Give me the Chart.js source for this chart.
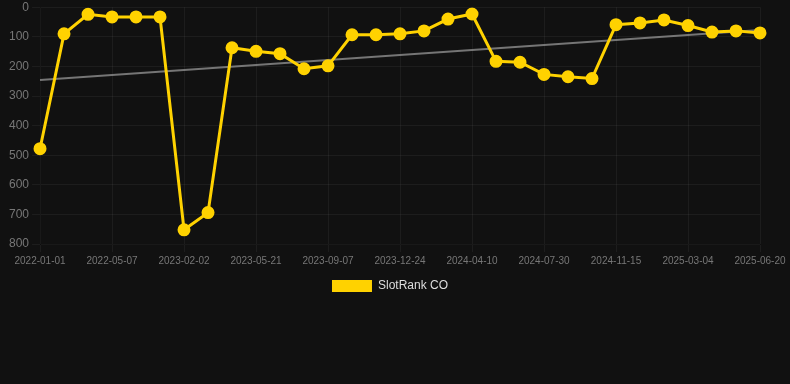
<!DOCTYPE html>
<html lang="en">
<head>
    <meta charset="UTF-8">
    <title>SlotRank CO</title>
    <script src="https://cdn.jsdelivr.net/npm/chart.js"></script>
    <style>
        html, body { margin: 0; padding: 0; background: #111111; overflow: hidden; }
        .chart-box { width: 790px; height: 305px; margin-top: -3px; }
    </style>
</head>
<body>
<div class="chart-box">
    <canvas id="rankChart"></canvas>
</div>
<script>
    // dates along the x axis (every third one is printed)
    const dates = [
        '2022-01-01', '2022-02-12', '2022-03-26', '2022-05-07', '2022-08-30', '2022-11-15',
        '2023-02-02', '2023-03-10', '2023-04-15', '2023-05-21', '2023-06-27', '2023-08-02',
        '2023-09-07', '2023-10-13', '2023-11-18', '2023-12-24', '2024-01-29', '2024-03-05',
        '2024-04-10', '2024-05-17', '2024-06-23', '2024-07-30', '2024-09-05', '2024-10-10',
        '2024-11-15', '2024-12-21', '2025-01-27', '2025-03-04', '2025-04-09', '2025-05-15',
        '2025-06-20'
    ];

    // rank values
    const rank = [
        478, 90, 24, 33, 33, 33,
        752, 694, 137, 149, 157, 208,
        198, 93, 93, 90, 80, 40,
        23, 183, 186, 227, 235, 241,
        59, 53, 43, 62, 84, 80,
        87
    ];

    // grey trend line: only the two ends are known
    const trendStart = 246;
    const trendEnd = 77;
    const trend = dates.map((d, i) => i === 0 ? trendStart : (i === dates.length - 1 ? trendEnd : null));

    const yTicks = { min: 0, max: 800, step: 100 };

    const font = 'Arial, "Liberation Sans", sans-serif';

    // nudge the legend a little to the right, like the original
    const shiftLegend = {
        id: 'shiftLegend',
        afterUpdate(chart) {
            chart.legend.left += 7;
            chart.legend.right += 7;
        }
    };

    const ctx = document.getElementById('rankChart').getContext('2d');
    new Chart(ctx, {
        type: 'line',
        data: {
            labels: dates,
            datasets: [
                {
                    label: 'SlotRank CO',
                    data: rank,
                    borderColor: '#FFD200',
                    backgroundColor: '#FFD200',
                    borderWidth: 3,
                    pointRadius: 5,
                    pointHoverRadius: 6,
                    tension: 0
                },
                {
                    label: 'trend',
                    data: trend,
                    borderColor: 'rgba(160, 160, 160, 0.7)',
                    borderWidth: 2,
                    pointRadius: 0,
                    spanGaps: true
                }
            ]
        },
        options: {
            responsive: true,
            maintainAspectRatio: false,
            animation: false,
            layout: { padding: { left: 6, right: 30 } },
            plugins: {
                legend: {
                    position: 'bottom',
                    labels: {
                        color: '#dddddd',
                        font: { family: font, size: 12 },
                        boxWidth: 40,
                        boxHeight: 12,
                        filter: item => item.text !== 'trend',
                        generateLabels: chart => {
                            const items = Chart.defaults.plugins.legend.labels.generateLabels(chart);
                            items.forEach(it => { it.lineWidth = 0; });
                            return items;
                        }
                    }
                },
                tooltip: { enabled: false }
            },
            scales: {
                x: {
                    grid: { color: 'rgba(255, 255, 255, 0.05)' },
                    ticks: {
                        color: '#777777',
                        font: { family: font, size: 10 },
                        maxRotation: 0,
                        autoSkip: true,
                        maxTicksLimit: 11
                    }
                },
                y: {
                    reverse: true,
                    min: yTicks.min,
                    max: yTicks.max,
                    grid: { color: 'rgba(255, 255, 255, 0.05)' },
                    ticks: {
                        color: '#777777',
                        stepSize: yTicks.step,
                        font: { family: font, size: 12 }
                    }
                }
            }
        },
        plugins: [shiftLegend]
    });
</script>
</body>
</html>
